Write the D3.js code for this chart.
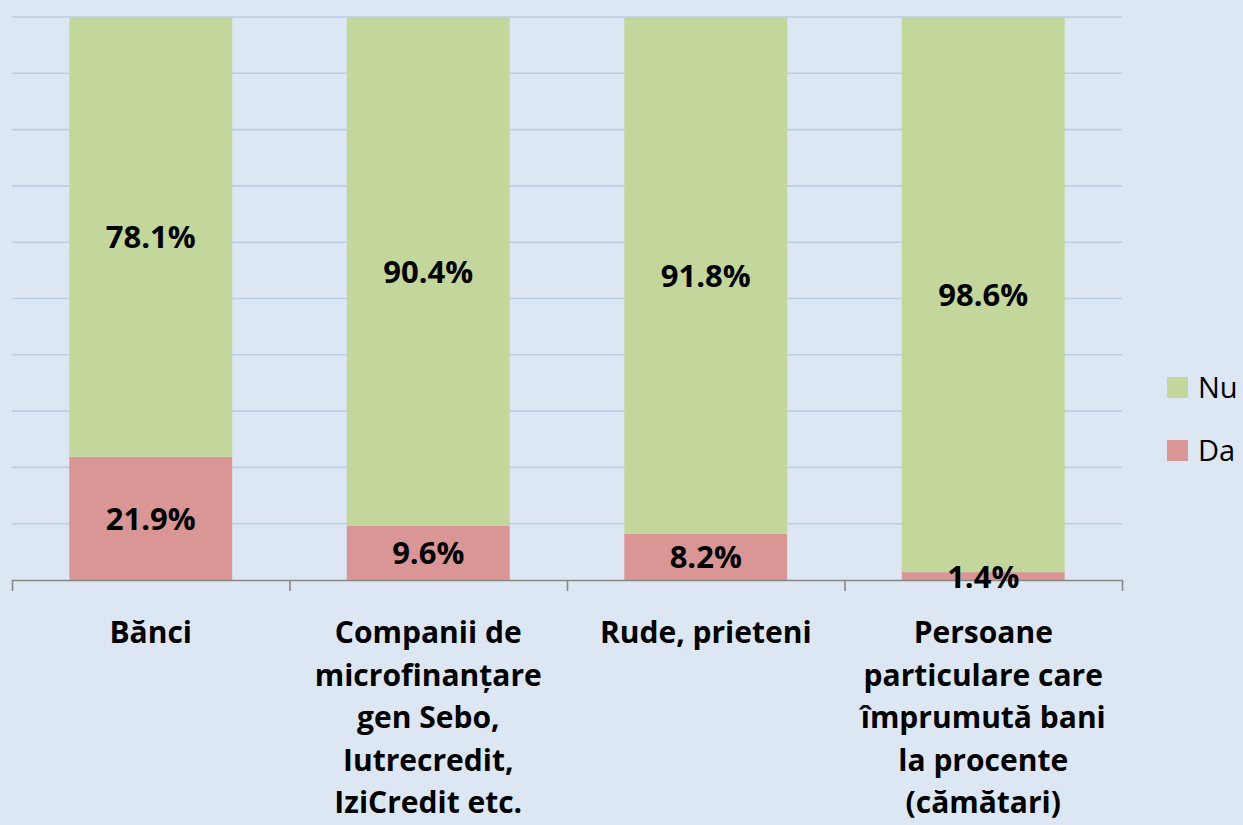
<!DOCTYPE html>
<html>
<head>
<meta charset="utf-8">
<script src="https://cdn.jsdelivr.net/npm/d3@7"></script>
<style>
  html, body { margin: 0; padding: 0; background: #dce7f3; }
  svg { display: block; font-family: "Open Sans", sans-serif; }
</style>
</head>
<body>
<div></div>
<script>
var categories = ['Bănci', 'Companii', 'Rude', 'Persoane'];
var categoryLines = [
    ['Bănci'],
    ['Companii de', 'microfinanțare', 'gen Sebo,', 'Iutrecredit,', 'IziCredit etc.'],
    ['Rude, prieteni'],
    ['Persoane', 'particulare care', 'împrumută bani', 'la procente', '(cămătari)']
];
var da = [21.9, 9.6, 8.2, 1.4];
var nu = [78.1, 90.4, 91.8, 98.6];
var seriesNames = ['Nu', 'Da'];
var seriesColors = ['#c3d69b', '#d99694'];
var gridTicks = [0, 10, 20, 30, 40, 50, 60, 70, 80, 90, 100];

var width = 1243;
var height = 825;
var plotLeft = 12, plotRight = 1122, plotTop = 17, plotBottom = 580;

var svg = d3.select('div')
    .append('svg')
    .attr('width', width)
    .attr('height', height);

svg.append('rect')
    .attr('width', width)
    .attr('height', height)
    .attr('fill', '#dce7f3');

// escalas
var xscale = d3.scaleBand()
    .domain(categories)
    .range([plotLeft, plotRight]);

var yscale = d3.scaleLinear()
    .domain([0, 100])
    .range([plotBottom, plotTop]);

var barWidth = xscale.step() * 0.587;

// lineas de cuadricula
svg.append('g')
    .selectAll('line')
    .data(gridTicks.slice(1))
    .enter()
    .append('line')
    .attr('x1', plotLeft)
    .attr('x2', plotRight)
    .attr('y1', d => yscale(d))
    .attr('y2', d => yscale(d))
    .attr('stroke', '#b9cde5')
    .attr('stroke-width', 1.6);

// datos apilados
var rows = categories.map(function(c, i) {
    return { cat: c, Da: da[i], Nu: nu[i] };
});
var stack = d3.stack().keys(['Da', 'Nu'])(rows);

var layers = svg.selectAll('g.layer')
    .data(stack)
    .enter()
    .append('g')
    .attr('class', 'layer')
    .attr('fill', d => d.key == 'Nu' ? seriesColors[0] : seriesColors[1]);

layers.selectAll('rect')
    .data(d => d)
    .enter()
    .append('rect')
    .attr('x', d => xscale(d.data.cat) + (xscale.bandwidth() - barWidth) / 2)
    .attr('y', d => yscale(d[1]))
    .attr('width', barWidth)
    .attr('height', d => yscale(d[0]) - yscale(d[1]));

// eje X con marcas en los limites
var edges = d3.scaleLinear().domain([0, categories.length]).range([plotLeft, plotRight]);
var xaxis = d3.axisBottom(edges)
    .tickValues(d3.range(categories.length + 1))
    .tickSize(11)
    .tickSizeOuter(0)
    .tickFormat('');

var axisG = svg.append('g')
    .attr('transform', 'translate(0,' + plotBottom + ')')
    .call(xaxis);
axisG.selectAll('path, line')
    .attr('stroke', '#878787')
    .attr('stroke-width', 1.6);

// etiquetas de valores
var valueLabels = svg.append('g');
stack.forEach(function(layer) {
    valueLabels.selectAll(null)
        .data(layer)
        .enter()
        .append('text')
        .text(d => (d[1] - d[0]).toFixed(1) + '%')
        .attr('x', d => xscale(d.data.cat) + xscale.bandwidth() / 2)
        .attr('y', d => (yscale(d[0]) + yscale(d[1])) / 2 + 11.5)
        .attr('text-anchor', 'middle')
        .attr('fill', '#000')
        .attr('font-weight', 'bold')
        .attr('font-size', 31);
});

// etiquetas de categorias
var catG = svg.append('g')
    .selectAll('text')
    .data(categories)
    .enter()
    .append('text')
    .attr('text-anchor', 'middle')
    .attr('font-weight', 'bold')
    .attr('font-size', 30)
    .attr('fill', '#000');

catG.selectAll('tspan')
    .data((d, i) => categoryLines[i].map(l => ({ line: l, cat: d })))
    .enter()
    .append('tspan')
    .attr('x', d => xscale(d.cat) + xscale.bandwidth() / 2)
    .attr('y', (d, j) => 643 + j * 42.5)
    .text(d => d.line);

// leyenda
var legend = svg.append('g')
    .selectAll('g')
    .data(seriesNames)
    .enter()
    .append('g')
    .attr('transform', (d, i) => 'translate(1167,' + (377 + i * 63) + ')');

legend.append('rect')
    .attr('width', 21)
    .attr('height', 21)
    .attr('fill', (d, i) => seriesColors[i]);

legend.append('text')
    .attr('x', 31)
    .attr('y', 21)
    .attr('font-size', 29)
    .attr('fill', '#000')
    .text(d => d);
</script>
</body>
</html>
